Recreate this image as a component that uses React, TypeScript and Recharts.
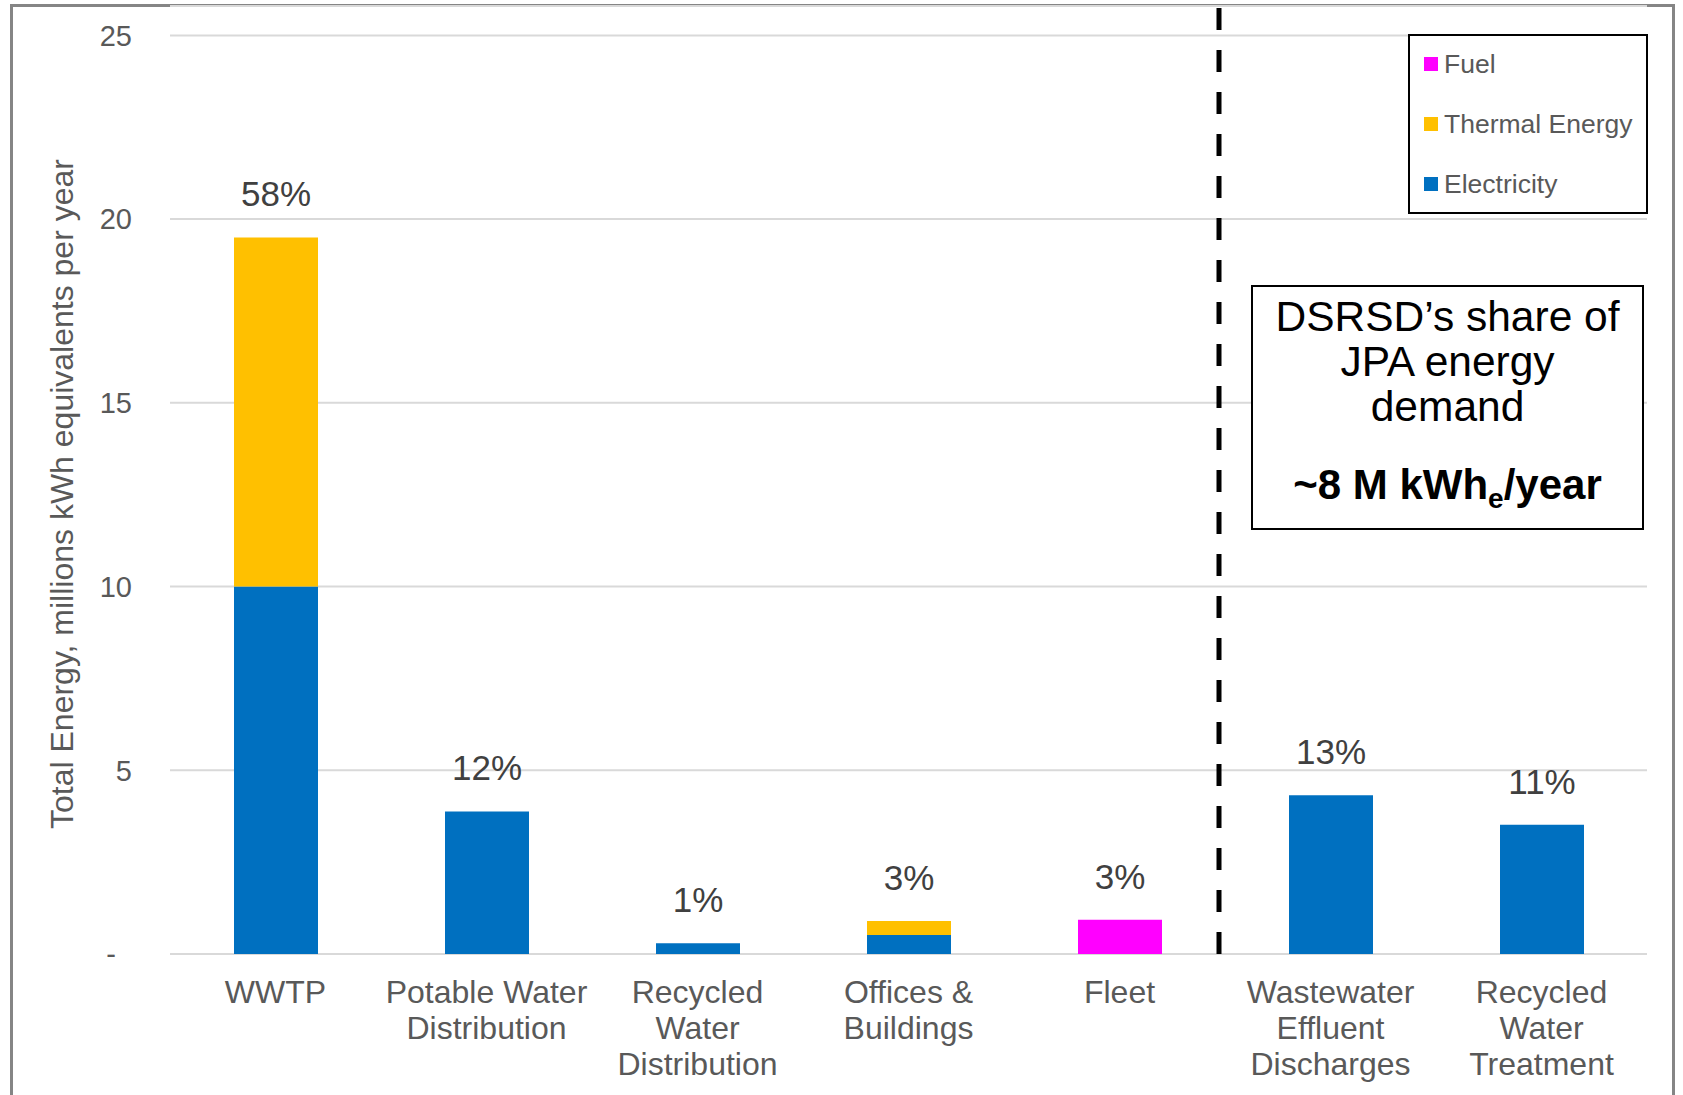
import React from 'react';
import { BarChart, Bar, XAxis, YAxis, CartesianGrid, ReferenceLine, LabelList } from 'recharts';

const categories = [
  'WWTP',
  'Potable Water\nDistribution',
  'Recycled\nWater\nDistribution',
  'Offices &\nBuildings',
  'Fleet',
  'Wastewater\nEffluent\nDischarges',
  'Recycled\nWater\nTreatment',
];
const electricity = [10, 3.88, 0.29, 0.52, 0, 4.32, 3.52];
const thermal = [9.5, 0, 0, 0.38, 0, 0, 0];
const fuel = [0, 0, 0, 0, 0.93, 0, 0];
const shareLabels = ['58%', '12%', '1%', '3%', '3%', '13%', '11%'];
const yTicks = [0, 5, 10, 15, 20, 25];

const seriesDefs = [
  { key: 'electricity', name: 'Electricity', color: '#0070C0' },
  { key: 'thermal', name: 'Thermal Energy', color: '#FFC000' },
  { key: 'fuel', name: 'Fuel', color: '#FF00FF' },
];

const data = categories.map((name, i) => {
  const row: any = {
    name,
    electricity: electricity[i],
    thermal: thermal[i],
    fuel: fuel[i],
  };
  // the share label goes on the top-most non-zero segment
  let top = seriesDefs[0].key;
  seriesDefs.forEach((s) => {
    if (row[s.key] > 0) top = s.key;
  });
  seriesDefs.forEach((s) => {
    row['lbl_' + s.key] = s.key === top ? shareLabels[i] : null;
  });
  return row;
});

const FONT = '"Liberation Sans", Arial, Helvetica, sans-serif';

const CategoryTick = (props: any) => {
  const { x, y, payload } = props;
  const lines = String(payload.value).split('\n');
  return (
    <text x={x} y={y + 49} textAnchor="middle" fill="#595959" fontSize={32} fontFamily={FONT}>
      {lines.map((l, i) => (
        <tspan key={i} x={x} dy={i === 0 ? 0 : 36}>
          {l}
        </tspan>
      ))}
    </text>
  );
};

const PctLabel = (p: any) => {
  if (p.value == null || p.value === '') return null;
  return (
    <text
      x={p.x + p.width / 2}
      y={p.y - 31}
      textAnchor="middle"
      fill="#404040"
      fontSize={35}
      fontFamily={FONT}
    >
      {p.value}
    </text>
  );
};

const YTitle = () => (
  <text
    x={62}
    y={494}
    transform="rotate(-90 62 494)"
    textAnchor="middle"
    dominantBaseline="central"
    fill="#595959"
    fontSize={32}
    fontFamily={FONT}
  >
    Total Energy, millions kWh equivalents per year
  </text>
);

const DividerLine = (p: any) => (
  <line
    x1={p.x1 - 6}
    y1={p.y1}
    x2={p.x2 - 6}
    y2={p.y2}
    stroke="#000"
    strokeWidth={5}
    strokeDasharray="22 20"
  />
);

export default function App() {
  const legendItems = [...seriesDefs].reverse();
  return (
    <div
      style={{
        position: 'absolute',
        left: 0,
        top: 0,
        width: 1683,
        height: 1095,
        overflow: 'hidden',
        background: '#fff',
        fontFamily: FONT,
      }}
    >
      <div
        style={{
          position: 'absolute',
          left: 10,
          top: 4,
          width: 1665,
          height: 1200,
          border: '3px solid #858585',
          boxSizing: 'border-box',
        }}
      />
      <div style={{ position: 'absolute', left: 0, top: 0 }}>
        <BarChart
          width={1683}
          height={1095}
          data={data}
          margin={{ top: 6, right: 36, bottom: 6, left: 10 }}
          barSize={84}
        >
          <CartesianGrid vertical={false} stroke="#d9d9d9" strokeWidth={2} />
          <XAxis
            dataKey="name"
            height={135}
            axisLine={false}
            tickLine={false}
            tickSize={0}
            tickMargin={0}
            interval={0}
            tick={<CategoryTick />}
          />
          <YAxis
            type="number"
            domain={[0, 25.8]}
            allowDataOverflow
            ticks={yTicks}
            width={160}
            axisLine={false}
            tickLine={false}
            tickSize={0}
            tickMargin={38}
            tick={{ fill: '#595959', fontSize: 29, fontFamily: FONT }}
            tickFormatter={(v: number) => (v === 0 ? '-\u00A0\u00A0' : String(v))}
            label={<YTitle />}
          />
          {seriesDefs.map((s) => (
            <Bar
              key={s.key}
              dataKey={s.key}
              name={s.name}
              stackId="a"
              fill={s.color}
              isAnimationActive={false}
            >
              <LabelList dataKey={'lbl_' + s.key} content={<PctLabel />} />
            </Bar>
          ))}
          <ReferenceLine
            x={categories[4]}
            position="end"
            stroke="#000"
            strokeWidth={5}
            strokeDasharray="22 20"
            ifOverflow="visible"
            shape={DividerLine}
          />
        </BarChart>
      </div>
      {/* Legend */}
      <div
        style={{
          position: 'absolute',
          left: 1408,
          top: 34,
          width: 240,
          height: 180,
          border: '2px solid #000',
          boxSizing: 'border-box',
          background: '#fff',
        }}
      >
        {legendItems.map((s, i) => (
          <div
            key={s.key}
            style={{
              position: 'absolute',
              left: 14,
              top: 28 + i * 60 - 18,
              height: 36,
              display: 'flex',
              alignItems: 'center',
              whiteSpace: 'nowrap',
            }}
          >
            <span style={{ display: 'inline-block', width: 14, height: 14, background: s.color, marginRight: 6 }} />
            <span style={{ fontSize: 26.5, color: '#595959', lineHeight: '36px' }}>{s.name}</span>
          </div>
        ))}
      </div>
      {/* Annotation */}
      <div
        style={{
          position: 'absolute',
          left: 1251,
          top: 285,
          width: 393,
          height: 245,
          border: '2px solid #000',
          boxSizing: 'border-box',
          background: '#fff',
          textAlign: 'center',
          color: '#000',
          paddingTop: 7,
        }}
      >
        <div style={{ fontSize: 42.5, lineHeight: '45px', whiteSpace: 'nowrap' }}>DSRSD’s share of</div>
        <div style={{ fontSize: 42.5, lineHeight: '45px', whiteSpace: 'nowrap' }}>JPA energy</div>
        <div style={{ fontSize: 42.5, lineHeight: '45px', whiteSpace: 'nowrap' }}>demand</div>
        <div style={{ fontSize: 42, lineHeight: '45px', fontWeight: 'bold', marginTop: 33, whiteSpace: 'nowrap' }}>
          ~8 M kWh
          <span style={{ fontSize: 28, position: 'relative', top: 9 }}>e</span>
          /year
        </div>
      </div>
    </div>
  );
}
